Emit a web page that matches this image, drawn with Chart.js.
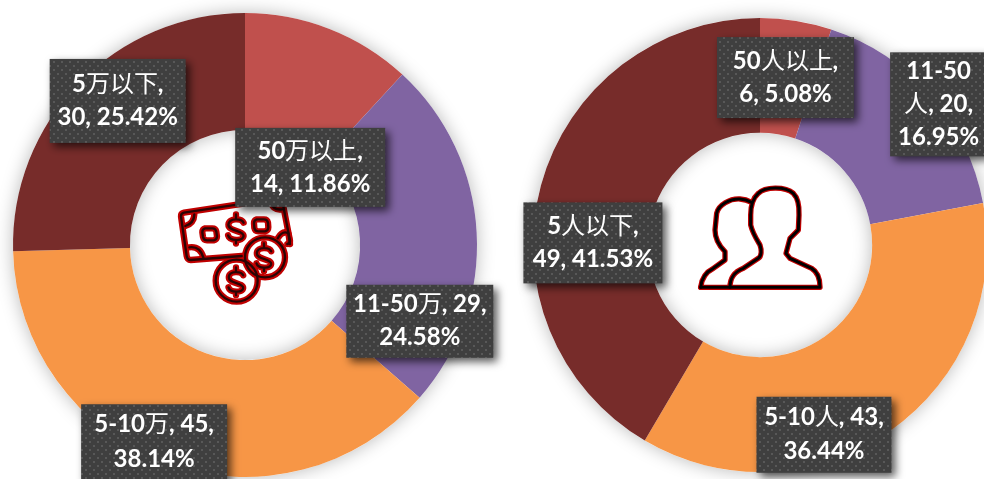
<!DOCTYPE html>
<html><head><meta charset="utf-8">
<script src="https://cdn.jsdelivr.net/npm/chart.js@4"></script>
<style>
@font-face{font-family:MixCJK;src:local("Noto Sans CJK SC");font-weight:bold;unicode-range:U+4E00-9FFF}
html,body{margin:0;padding:0;background:#fff;width:984px;height:479px;overflow:hidden}
canvas{position:absolute;top:0}
#money{left:0}
#people{left:510px}
</style></head><body>
<canvas id="money" width="510" height="479"></canvas>
<canvas id="people" width="490" height="479"></canvas>
<script>
const sliceColors = ['#c0504d', '#8064a2', '#f79646', '#772c2a'];

const moneyCategories = ['50万以上', '11-50万', '5-10万', '5万以下'];
const moneyValues = [14, 29, 45, 30];
const moneyPercents = ['11.86%', '24.58%', '38.14%', '25.42%'];

const peopleCategories = ['50人以上', '11-50人', '5-10人', '5人以下'];
const peopleValues = [6, 20, 43, 49];
const peoplePercents = ['5.08%', '16.95%', '36.44%', '41.53%'];

// label layout: offset of the box centre from the slice's mid point, box size, wrapped lines
const moneyLabelLayout = [
  {dx: 2, dy: 84, w: 150, h: 79, lineGap: 33, wrap: l => [l.cat + ',', l.val + ', ' + l.pct]},
  {dx: 1.5, dy: 85.5, w: 147, h: 73, lineGap: 33, wrap: l => [l.cat + ', ' + l.val + ',', l.pct]},
  {dx: -32, dy: 34, w: 146, h: 76, lineGap: 35, wrap: l => [l.cat + ', ' + l.val + ',', l.pct]},
  {dx: -3, dy: -23, w: 136, h: 84, lineGap: 33, wrap: l => [l.cat + ',', l.val + ', ' + l.pct]}
];
const peopleLabelLayout = [
  {dx: -1.5, dy: 0, w: 137, h: 81, lineGap: 33, wrap: l => [l.cat + ',', l.val + ', ' + l.pct]},
  {dx: 51, dy: -29, w: 97, h: 104, lineGap: 33, wrap: l => ['11-50', '人, ' + l.val + ',', l.pct]},
  {dx: -33.5, dy: 51, w: 135, h: 76, lineGap: 34, wrap: l => [l.cat + ', ' + l.val + ',', l.pct]},
  {dx: -3.5, dy: 42.5, w: 139, h: 81, lineGap: 33, wrap: l => [l.cat + ',', l.val + ', ' + l.pct]}
];

const LABEL_FONT = 'bold 24px MixCJK, Lato, "Noto Sans CJK SC", sans-serif';

function dotPattern(ctx) {
  const t = document.createElement('canvas');
  t.width = t.height = 8;
  const c = t.getContext('2d');
  c.fillStyle = '#3f3f3f'; c.fillRect(0, 0, 8, 8);
  c.fillStyle = '#585858';
  c.fillRect(1, 1, 2, 2); c.fillRect(5, 5, 2, 2);
  return ctx.createPattern(t, 'repeat');
}

const ringShadow = {
  id: 'ringShadow',
  beforeDatasetsDraw(chart) {
    const arc = chart.getDatasetMeta(0).data[0];
    const ctx = chart.ctx;
    ctx.save();
    ctx.shadowColor = 'rgba(0,0,0,0.28)';
    ctx.shadowBlur = 18;
    ctx.fillStyle = '#fff';
    ctx.beginPath();
    ctx.arc(arc.x, arc.y, arc.outerRadius, 0, Math.PI * 2);
    ctx.arc(arc.x, arc.y, arc.innerRadius, 0, Math.PI * 2, true);
    ctx.fill();
    ctx.restore();
  }
};

const sliceLabels = {
  id: 'sliceLabels',
  afterDatasetsDraw(chart, args, opts) {
    const ctx = chart.ctx, meta = chart.getDatasetMeta(0);
    const pattern = dotPattern(ctx);
    meta.data.forEach((arc, i) => {
      const mid = (arc.startAngle + arc.endAngle) / 2;
      const r = (arc.innerRadius + arc.outerRadius) / 2;
      const lay = opts.layout[i];
      const cx = arc.x + Math.cos(mid) * r + lay.dx;
      const cy = arc.y + Math.sin(mid) * r + lay.dy;
      ctx.save();
      ctx.shadowColor = 'rgba(0,0,0,0.65)';
      ctx.shadowBlur = 8; ctx.shadowOffsetX = 4; ctx.shadowOffsetY = 4;
      ctx.fillStyle = pattern;
      ctx.fillRect(cx - lay.w / 2, cy - lay.h / 2, lay.w, lay.h);
      ctx.restore();
      const lines = lay.wrap({cat: chart.data.labels[i], val: chart.data.datasets[0].data[i], pct: opts.percents[i]});
      ctx.save();
      ctx.font = LABEL_FONT;
      ctx.fillStyle = '#fff';
      ctx.textAlign = 'center';
      ctx.textBaseline = 'middle';
      lines.forEach((t, k) => ctx.fillText(t, cx, cy + (k - (lines.length - 1) / 2) * lay.lineGap));
      ctx.restore();
    });
  }
};

// centre pictograms, traced in a 3x grid
function drawStroked(ctx, paths, outer, inner, wo, wi) {
  ctx.lineJoin = 'round'; ctx.lineCap = 'round';
  paths.forEach(p => { const P = new Path2D(p); ctx.strokeStyle = outer; ctx.lineWidth = wo; ctx.stroke(P); });
  paths.forEach(p => { const P = new Path2D(p); ctx.strokeStyle = inner; ctx.lineWidth = wi; ctx.stroke(P); });
}
const dollar = (x, y, s) => {
  const f = (a, b) => (x + a * s) + ' ' + (y + b * s);
  return `M${f(24,-20)} C${f(18,-34)} ${f(-22,-36)} ${f(-24,-14)} C${f(-25,8)} ${f(24,4)} ${f(24,22)} C${f(22,40)} ${f(-20,38)} ${f(-25,20)} M${f(0,-46)} L${f(0,-34)} M${f(0,36)} L${f(0,46)}`;
};
const circlePath = (x, y, r) => `M${x - r} ${y} a${r} ${r} 0 1 0 ${2 * r} 0 a${r} ${r} 0 1 0 ${-2 * r} 0`;
const moneyIcon = [
  'M275 258 L122 270 Q112 270 110 258 L93 140 Q92 130 102 128 L385 85 Q395 84 397 94 L420 212 Q421 220 412 222',
  'M133 133 Q132 160 106 168', 'M362 97 Q370 122 396 118', 'M118 232 Q150 228 160 262', 'M383 205 Q398 180 415 190 L420 222',
  'M165 175 h22 q10 0 12 10 l2 14 q0 10 -10 12 h-20 q-10 0 -12 -10 l-2 -14 q0 -10 8 -12 z',
  'M320 148 h22 q10 0 12 10 l1 14 q0 10 -10 12 h-20 q-10 0 -12 -10 l-1 -14 q0 -10 8 -12 z',
  dollar(258, 177, 0.95),
  circlePath(345, 262, 60), dollar(342, 262, 0.9),
  circlePath(260, 332, 63), dollar(258, 334, 0.9)
];
const peopleIcon = [
  'M150 352 C150 320 165 305 190 295 L235 265 C245 258 245 240 240 225 C228 205 218 190 212 165 L212 135 C212 110 218 85 235 70 C255 50 315 48 340 70 C355 85 358 110 357 135 L355 180 L330 205 L318 250 L330 265 L395 295 C412 305 420 325 420 352 Z',
  'M62 352 C65 320 80 305 100 295 L135 270 L135 245 C115 225 105 205 105 180 L110 130 C115 105 150 85 180 87 C195 88 205 92 215 97',
  'M62 352 L150 352'
];
const centreIcon = {
  id: 'centreIcon',
  afterDatasetsDraw(chart, args, opts) {
    const ctx = chart.ctx, arc = chart.getDatasetMeta(0).data[0];
    ctx.save();
    ctx.translate(arc.x + opts.ox, arc.y + opts.oy);
    ctx.scale(1 / 3, 1 / 3);
    drawStroked(ctx, opts.paths, opts.outer, opts.inner, opts.wo, opts.wi);
    ctx.restore();
  }
};

function makeChart(id, cats, vals, pcts, layout, padding, cutout, icon) {
  return new Chart(document.getElementById(id), {
    type: 'doughnut',
    data: {labels: cats, datasets: [{data: vals, backgroundColor: sliceColors, borderWidth: 0, hoverOffset: 0}]},
    options: {
      responsive: false, animation: false, devicePixelRatio: 1, cutout: cutout,
      layout: {padding},
      events: [],
      plugins: {legend: {display: false}, tooltip: {enabled: false}, title: {display: false},
        sliceLabels: {layout, percents: pcts}, centreIcon: icon}
    },
    plugins: [ringShadow, centreIcon, sliceLabels]
  });
}

document.fonts.load(LABEL_FONT, '万人以上下').catch(() => {}).then(() => {
  makeChart('money', moneyCategories, moneyValues, moneyPercents, moneyLabelLayout,
    {left: 13, right: 33, top: 13, bottom: 2}, '49.6%',
    {paths: moneyIcon, outer: '#c00000', inner: '#2a0505', wo: 19, wi: 7, ox: -95, oy: -75});
  makeChart('people', peopleCategories, peopleValues, peoplePercents, peopleLabelLayout,
    {left: 23, right: 13, top: 18, bottom: 7}, '49.4%',
    {paths: peopleIcon, outer: '#c00000', inner: '#000', wo: 16, wi: 9, ox: -80, oy: -75});
});
</script>
</body></html>
